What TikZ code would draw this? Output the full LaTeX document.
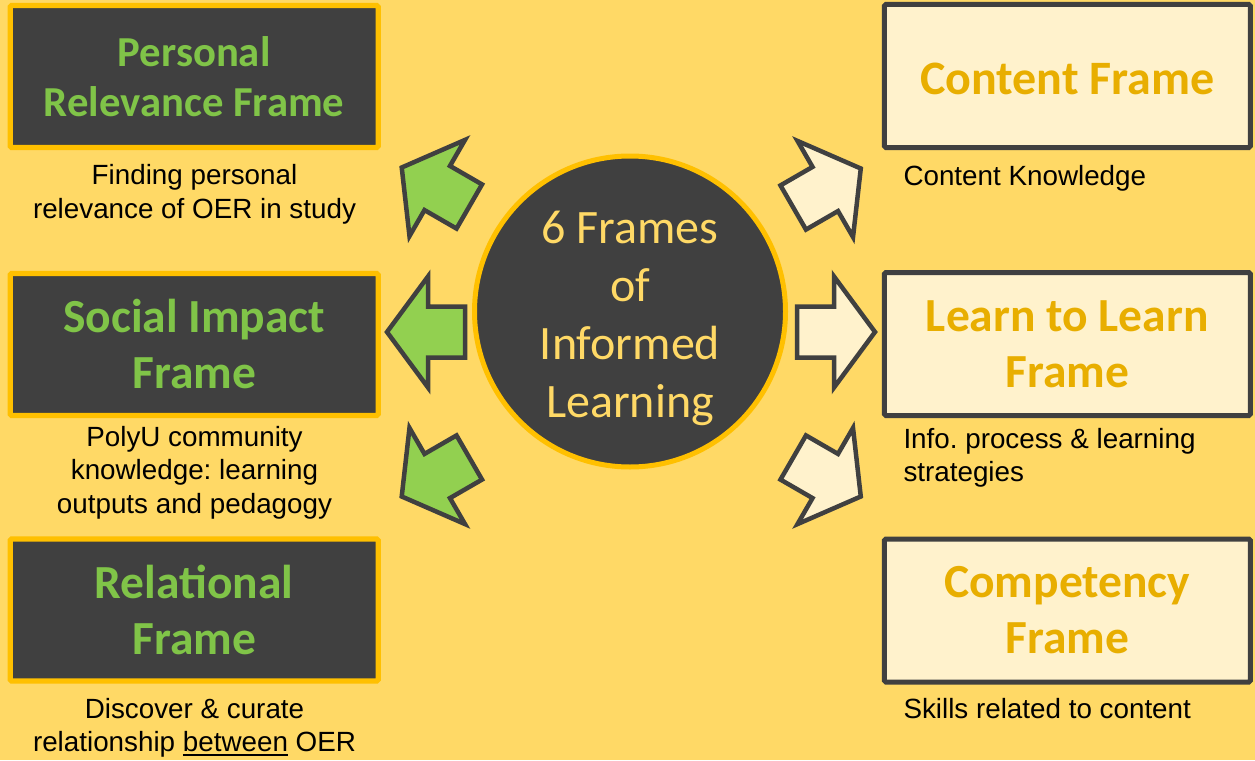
\documentclass[tikz,border=0pt]{standalone}
\usepackage{fontspec}
\newfontfamily\carlito{Carlito}
\newfontfamily\arialf{Liberation Sans}
\definecolor{bgyellow}{RGB}{255,217,102}
\definecolor{darkfill}{RGB}{64,64,64}
\definecolor{orangeb}{RGB}{255,192,0}
\definecolor{creamfill}{RGB}{255,242,204}
\definecolor{goldtxt}{RGB}{232,174,0}
\definecolor{greentxt}{RGB}{128,196,72}
\definecolor{greenarrow}{RGB}{146,208,80}
\definecolor{yellowtxt}{RGB}{255,217,102}
\newcommand\ulword[1]{\setbox0\hbox{#1}\rlap{\rule[-4.5pt]{\wd0}{1.8pt}}\box0\relax}
\newcommand\blockarr[3]{\draw[blockarrow, fill=#3, shift={(#1)}, rotate=#2] (39,0) -- (-2,-55.5) -- (-2,-25.5) -- (-39,-25.5) -- (-39,25.5) -- (-2,25.5) -- (-2,55.5) -- cycle;}
\begin{document}
\begin{tikzpicture}[x=1pt,y=-1pt,
  darkbox/.style={rectangle, draw=orangeb, fill=darkfill, line width=5.3pt, rounded corners=1.5pt,
    minimum width=368pt, minimum height=142pt, inner sep=0pt, text=greentxt, align=center,
    font=\carlito\bfseries\fontsize{47.5}{56}\selectfont},
  lightbox/.style={rectangle, draw=darkfill, fill=creamfill, line width=5pt, rounded corners=1.5pt,
    minimum width=366pt, minimum height=143pt, inner sep=0pt, text=goldtxt, align=center,
    font=\carlito\bfseries\fontsize{47.5}{56}\selectfont},
  desc/.style={inner sep=0pt, text=black, font=\arialf\frenchspacing\fontsize{27.8}{33.5}\selectfont},
  blockarrow/.style={draw=darkfill, line width=4.5pt, line join=miter}]
\useasboundingbox (0,0) rectangle (1255,760);
\fill[bgyellow] (0,0) rectangle (1255,760);

% left boxes
\node[darkbox, font=\carlito\bfseries\fontsize{42.7}{50}\selectfont] (personal) at (194.2,76.5) {Personal\\Relevance Frame};
\node[darkbox] (social) at (194.2,344.5) {Social Impact\\Frame};
\node[darkbox] (relational) at (194.2,610) {Relational\\Frame};

% right boxes
\node[lightbox, font=\carlito\bfseries\fontsize{48}{56}\selectfont] (content) at (1067.3,76) {\raisebox{-2.5pt}[\height][\depth]{Content Frame}};
\node[lightbox] (learn) at (1067.3,344) {Learn to Learn\\Frame};
\node[lightbox] (competency) at (1067.3,610.5) {Competency\\Frame};

% centre circle
\node[circle, draw=orangeb, fill=darkfill, line width=5pt, minimum size=311pt, inner sep=0pt] (hub) at (630,311.5) {};
\node[text=yellowtxt, align=center, inner sep=0pt, font=\carlito\fontsize{48}{58}\selectfont] (hubtext) at (630,318)
  {6 Frames\\of\\Informed\\Learning};

% descriptions
\node[desc, align=center, anchor=base] (dpersonal) at (194.5,218.3) {Finding personal\\relevance of OER in study};
\node[desc, align=center, anchor=base] (dsocial) at (194.5,513.3) {PolyU community\\knowledge: learning\\outputs and pedagogy};
\node[desc, align=center, anchor=base] (drelational) at (194.5,751.7) {Discover \& curate\\relationship \ulword{between} OER};
\node[desc, align=left, anchor=base west] (dcontent) at (903.3,185) {Content Knowledge};
\node[desc, align=left, anchor=base west] (dlearn) at (903.3,481.7) {Info. process \& learning\\strategies};
\node[desc, align=left, anchor=base west] (dcompetency) at (903.3,718.3) {Skills related to content};

% block arrows
\blockarr{435.5,187}{150}{greenarrow}
\blockarr{426,332}{180}{greenarrow}
\blockarr{435.5,477}{210}{greenarrow}
\blockarr{827,188}{30}{creamfill}
\blockarr{836,332}{0}{creamfill}
\blockarr{827,477}{-30}{creamfill}
\end{tikzpicture}
\end{document}
